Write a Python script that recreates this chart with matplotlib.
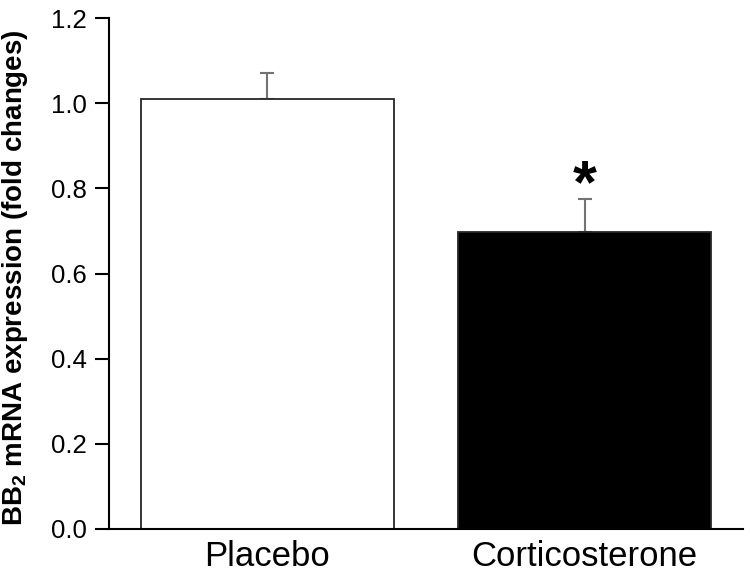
import numpy as np
import matplotlib.pyplot as plt

plt.rcParams['font.family'] = ['Liberation Sans', 'DejaVu Sans']
plt.rcParams['mathtext.fontset'] = 'custom'
plt.rcParams['mathtext.rm'] = 'Liberation Sans'
plt.rcParams['mathtext.bf'] = 'Liberation Sans:bold'

groups = ['Placebo', 'Corticosterone']
means = [1.01, 0.697]
sem = [0.061, 0.078]
colors = ['white', 'black']

fig = plt.figure(figsize=(7.5, 5.74), dpi=100)
ax = fig.add_axes([0.1453, 0.0784, 0.9907 - 0.1453, 0.9686 - 0.0784])

index = np.arange(len(groups))
ax.bar(index, means, 0.8, color=colors, edgecolor='0.15', linewidth=1.3, zorder=2)
ax.errorbar(index, means, yerr=[np.zeros(len(sem)), sem], fmt='none',
            ecolor='0.45', elinewidth=1.5, capsize=5, capthick=1.5, zorder=1)

# significance marker
ax.text(index[1], means[1] + sem[1] - 0.008, '*', ha='center', va='baseline',
        fontsize=44, fontweight='bold', color='black')

ax.set_xlim(-0.5, 1.5)
ax.set_ylim(0, 1.2)
ax.set_yticks(np.arange(0, 1.21, 0.2))
ax.set_yticklabels(['%.1f' % v for v in np.arange(0, 1.21, 0.2)], fontsize=18.5)
ax.set_xticks(index)
ax.set_xticklabels(groups, fontsize=25)
ax.tick_params(axis='x', length=0, pad=8)
ax.tick_params(axis='y', direction='out', length=10, width=1.5, pad=6)

for s in ['top', 'right']:
    ax.spines[s].set_visible(False)
for s in ['left', 'bottom']:
    ax.spines[s].set_linewidth(1.5)

ax.set_ylabel(r'BB$_\mathbf{2}$ mRNA expression (fold changes)',
              fontsize=20, fontweight='bold')
ax.yaxis.set_label_coords(-0.125, 0.492)

plt.savefig('out.png', dpi=100)
